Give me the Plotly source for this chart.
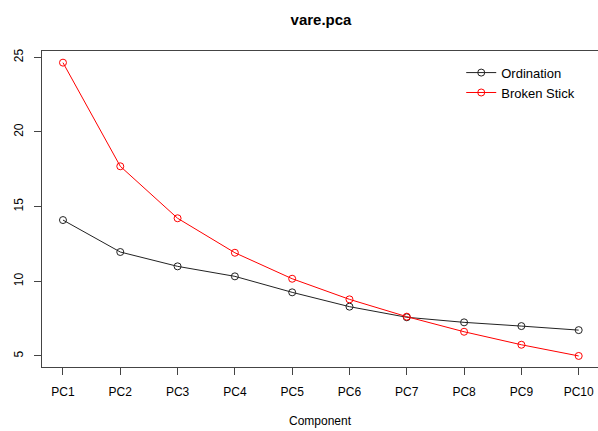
import plotly.graph_objects as go

components = ["PC1", "PC2", "PC3", "PC4", "PC5", "PC6", "PC7", "PC8", "PC9", "PC10"]
ordination = [14.1, 11.96, 11.0, 10.33, 9.26, 8.30, 7.59, 7.25, 7.0, 6.73]
broken_stick = [24.64, 17.70, 14.22, 11.91, 10.17, 8.79, 7.63, 6.62, 5.75, 5.0]
y_ticks = [5, 10, 15, 20, 25]

xpos = list(range(1, len(components) + 1))
FONT = "Liberation Sans, Arial, Helvetica, sans-serif"

fig = go.Figure()
fig.add_trace(go.Scatter(
    x=xpos, y=ordination, name="Ordination", mode="lines+markers",
    line=dict(color="#222222", width=1),
    marker=dict(symbol="circle-open", size=7, color="#222222", line=dict(width=1)),
))
fig.add_trace(go.Scatter(
    x=xpos, y=broken_stick, name="Broken Stick", mode="lines+markers",
    line=dict(color="#ff0000", width=1),
    marker=dict(symbol="circle-open", size=7, color="#ff0000", line=dict(width=1)),
))

fig.update_layout(
    width=598, height=431,
    margin=dict(l=42, r=0, t=51, b=64, autoexpand=False),
    paper_bgcolor="white", plot_bgcolor="white",
    font=dict(family=FONT, size=12, color="black"),
    title=dict(text="<b>vare.pca</b>", x=321 / 598, xanchor="center", xref="container",
               y=1 - 20 / 431, yref="container", yanchor="middle",
               font=dict(family=FONT, size=15, color="black")),
    showlegend=True,
    legend=dict(x=0.754, y=0.979, xanchor="left", yanchor="top",
                bgcolor="rgba(0,0,0,0)", font=dict(family=FONT, size=13),
                tracegroupgap=0, itemwidth=30),
)

fig.update_xaxes(
    range=[0.634, 10.337], tickmode="array", tickvals=xpos, ticktext=components,
    showgrid=False, zeroline=False, showline=True, linecolor="#444444", linewidth=1,
    mirror=True, ticks="outside", ticklen=7, tickcolor="#444444",
    ticklabelstandoff=7, automargin=False,
    title=dict(text="Component", standoff=18, font=dict(family=FONT, size=12)),
)
fig.update_yaxes(
    range=[4.26, 25.42], tickmode="array", tickvals=y_ticks,
    ticktext=[str(v) for v in y_ticks], tickangle=-90,
    showgrid=False, zeroline=False, showline=True, linecolor="#444444", linewidth=1,
    mirror=True, ticks="outside", ticklen=7, tickcolor="#444444",
    ticklabelstandoff=6, automargin=False,
)

fig.write_html("out.html", config={"displayModeBar": False},
               post_script="document.body.style.margin='0px';document.body.style.padding='0px';")
